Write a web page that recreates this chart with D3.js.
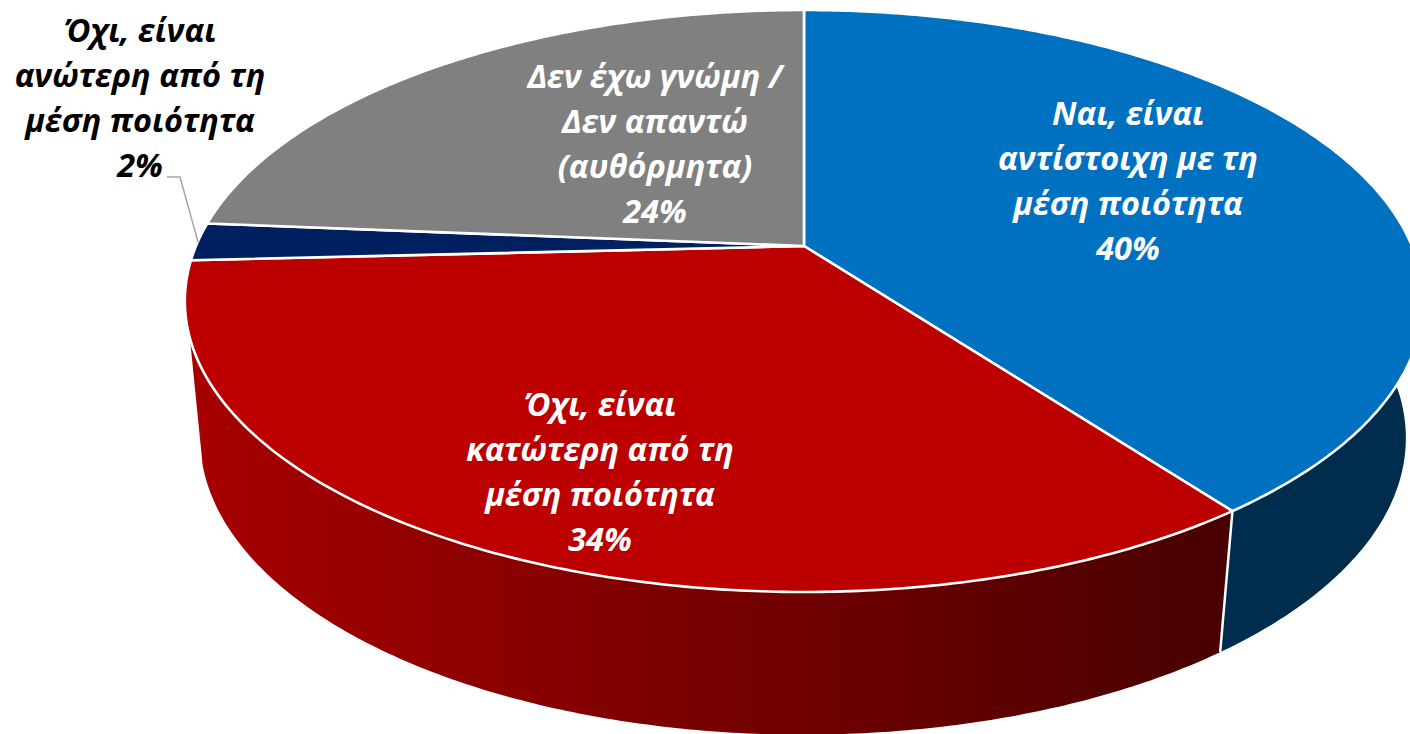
<!DOCTYPE html>
<html>
<head>
<meta charset="utf-8">
<script src="https://cdn.jsdelivr.net/npm/d3@7"></script>
<style>
html, body { margin: 0; padding: 0; background: #fff; overflow: hidden; }
text { font-family: "Open Sans", sans-serif; font-weight: 700; font-style: italic; text-anchor: middle; }
</style>
</head>
<body>
<div id="vis"></div>
<script>
var width = 1410;
var height = 734;

// chart data
var categories = [
  ["Ναι, είναι", "αντίστοιχη με τη", "μέση ποιότητα"],
  ["Όχι, είναι", "κατώτερη από τη", "μέση ποιότητα"],
  ["Όχι, είναι", "ανώτερη από τη", "μέση ποιότητα"],
  ["Δεν έχω γνώμη /", "Δεν απαντώ", "(αυθόρμητα)"]
];
var values = [39.8, 34.4, 2.1, 23.7];
var colors = ["#0070c0", "#bc0000", "#002060", "#808080"];
var labelColors = ["#fff", "#fff", "#000", "#fff"];
var labelX = [1128, 600, 140, 655];
var labelY = [125, 416, 42, 88];
var lineGap = 45;

// perspective of the disc
var k = 0.189;
var top_plane = {cx: 804, cy: 246, rx: 608, ry: 280.6};
var low_plane = {cx: 803, cy: 382, rx: 592, ry: 286};

function project(plane, a) {
  var u = Math.sin(a), v = Math.cos(a);
  var w = 1 + k * v;
  return [plane.cx + plane.rx * u / w, plane.cy - plane.ry * v / w];
}
// points along the rim from angle a0 to a1
function rim(plane, a0, a1) {
  var n = Math.max(2, Math.ceil(Math.abs(a1 - a0) / 0.01));
  return d3.range(n + 1).map(function(i) {
    return project(plane, a0 + (a1 - a0) * i / n);
  });
}

var svg = d3.select("#vis").append("svg")
  .attr("width", width).attr("height", height)
  .style("display", "block");

var grad = svg.append("defs").append("linearGradient")
  .attr("id", "redSide")
  .attr("gradientUnits", "userSpaceOnUse")
  .attr("x1", 190).attr("x2", 1230).attr("y1", 0).attr("y2", 0);
grad.append("stop").attr("offset", 0).attr("stop-color", "#a80000");
grad.append("stop").attr("offset", 1).attr("stop-color", "#480000");

var arcs = d3.pie().sort(null)(values);
var line = d3.line();
var rad = Math.PI / 180;

// sides first, only the part facing the viewer
var blueEnd = arcs[0].endAngle;
var redEdgeTop = 252 * rad, redEdgeLow = 254 * rad;
var blueSide = rim(top_plane, 70 * rad, blueEnd).concat(rim(low_plane, blueEnd, 70 * rad));
var redSide = rim(top_plane, blueEnd, redEdgeTop).concat(rim(low_plane, redEdgeLow, blueEnd));

svg.append("path").attr("d", line(blueSide) + "Z").attr("fill", "#002d4d");
svg.append("path").attr("d", line(redSide) + "Z").attr("fill", "url(#redSide)");
svg.append("path")
  .attr("d", line([project(top_plane, blueEnd), project(low_plane, blueEnd)]))
  .attr("stroke", "#fff").attr("stroke-width", 2.5).attr("fill", "none");

// top of the disc
svg.selectAll(".slice").data(arcs).enter().append("path")
  .attr("class", "slice")
  .attr("d", function(d) {
    return line([[top_plane.cx, top_plane.cy]].concat(rim(top_plane, d.startAngle, d.endAngle))) + "Z";
  })
  .attr("fill", function(d, i) { return colors[i]; })
  .attr("stroke", "#fff")
  .attr("stroke-width", 2.6)
  .attr("stroke-linejoin", "round");

// leader line of the small slice
svg.append("polyline")
  .attr("points", "167,177 180,177 198,242")
  .attr("fill", "none").attr("stroke", "#a6a6a6").attr("stroke-width", 1.5);

// labels
categories.forEach(function(lines, i) {
  var t = svg.append("text").attr("font-size", 32.5).attr("fill", labelColors[i]);
  lines.concat(d3.format(".0f")(values[i]) + "%").forEach(function(s, j) {
    t.append("tspan").attr("x", labelX[i]).attr("y", labelY[i] + j * lineGap).text(s);
  });
});
</script>
</body>
</html>
